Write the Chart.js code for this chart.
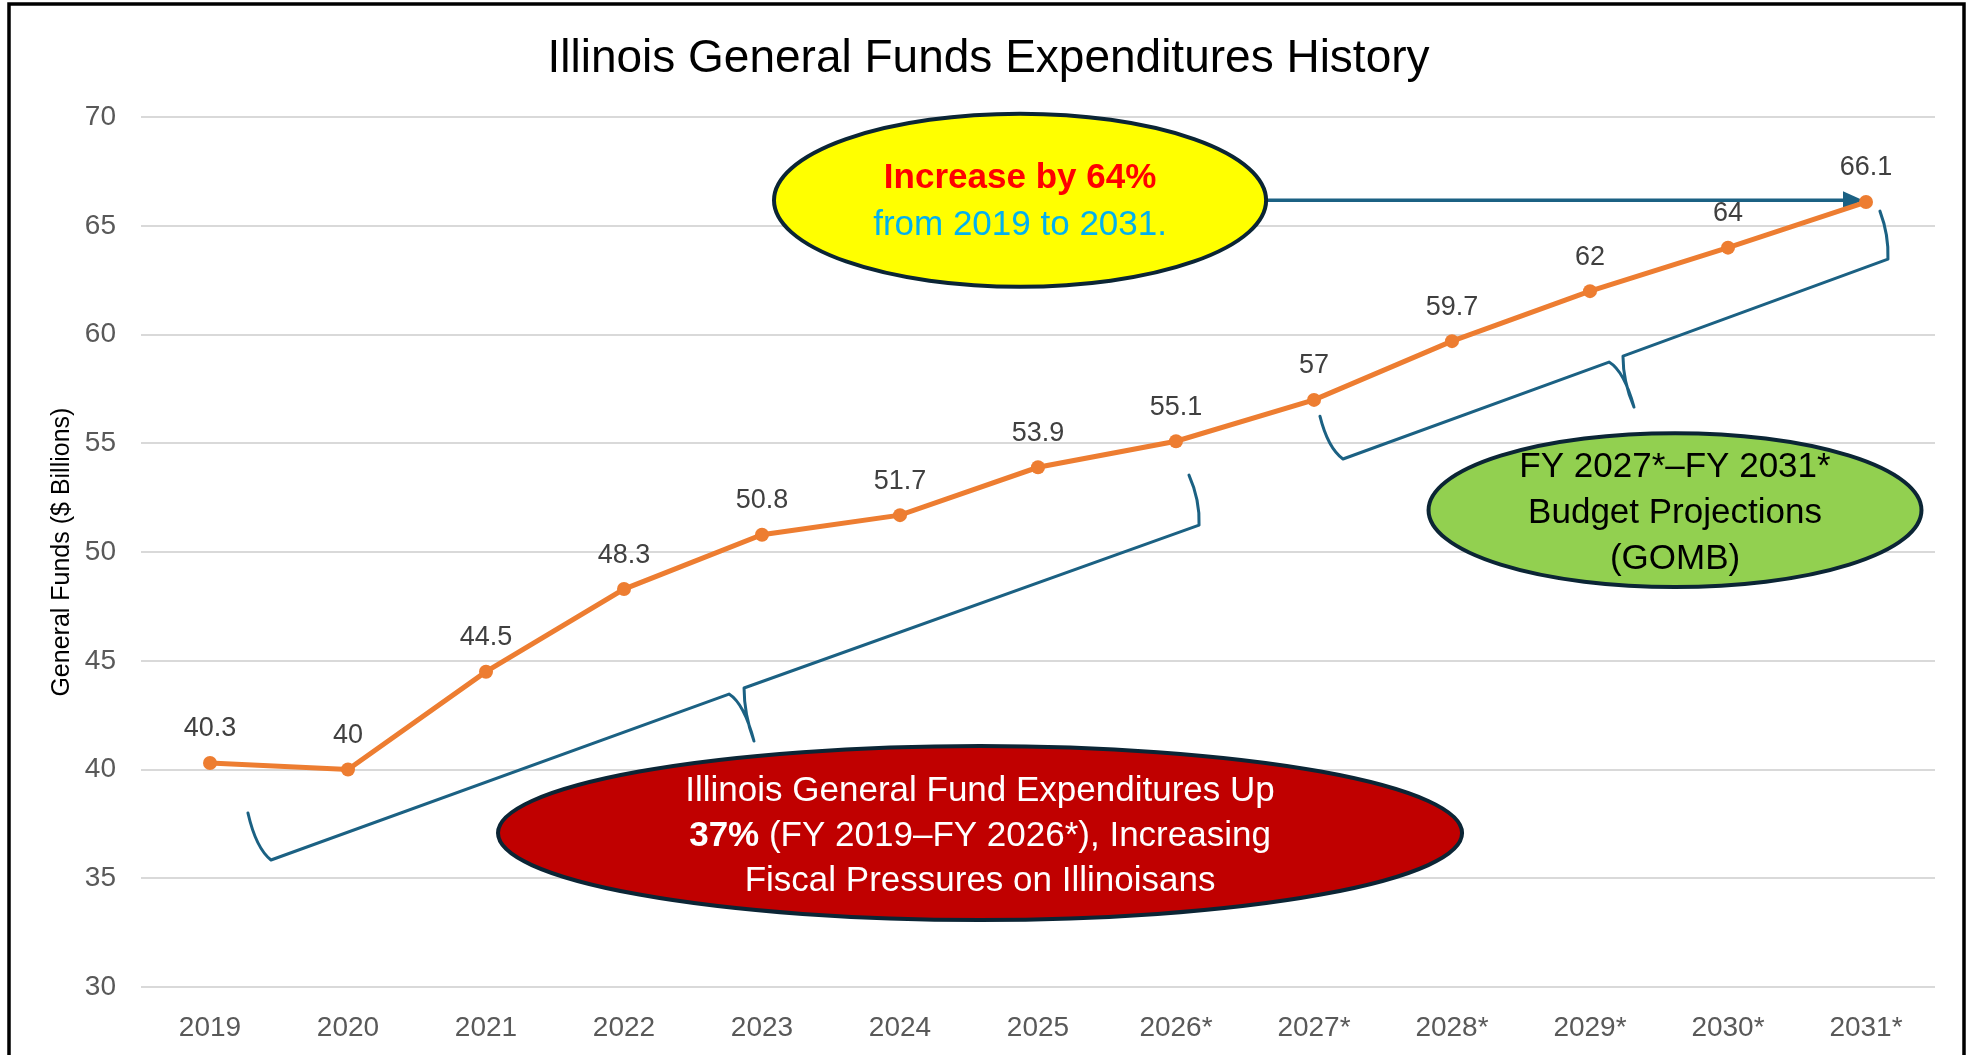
<!DOCTYPE html>
<html>
<head>
<meta charset="utf-8">
<title>Illinois General Funds Expenditures History</title>
<script src="https://cdn.jsdelivr.net/npm/chart.js@4.4.1/dist/chart.umd.min.js"></script>
<style>
  html, body { margin: 0; padding: 0; background: #fff; }
  #wrap { width: 1977px; height: 1055px; position: relative; }
</style>
</head>
<body>
<div id="wrap"><canvas id="expChart"></canvas></div>
<script>
// fiscal years and general funds spending ($ billions)
const years = ['2019', '2020', '2021', '2022', '2023', '2024', '2025', '2026*', '2027*', '2028*', '2029*', '2030*', '2031*'];
const expenditures = [40.3, 40, 44.5, 48.3, 50.8, 51.7, 53.9, 55.1, 57, 59.7, 62, 64, 66.1];
const yMin = 30;
const yMax = 70;
const yStep = 5;

const FONT = "'Liberation Sans', Arial, sans-serif";
const BRACE_COLOR = '#1b6183';
const OUTLINE = '#0b2535';

// callout bubbles, placed in chart units (category index, $ billions)
const callouts = [
  {
    i: 5.87, v: 66.18, rx: 1.783, ry: 3.98, fill: '#ffff00', gap: 47, shift: 2,
    lines: [
      [{ t: 'Increase by 64%', b: true, c: '#ff0000' }],
      [{ t: 'from 2019 to 2031.', c: '#00b0f0' }]
    ]
  },
  {
    i: 5.58, v: 37.08, rx: 3.493, ry: 4.0, fill: '#c00000', gap: 45, shift: 3,
    lines: [
      [{ t: 'Illinois General Fund Expenditures Up', c: '#fff' }],
      [{ t: '37%', b: true, c: '#fff' }, { t: ' (FY 2019\u2013FY 2026*), Increasing', c: '#fff' }],
      [{ t: 'Fiscal Pressures on Illinoisans', c: '#fff' }]
    ]
  },
  {
    i: 10.616, v: 51.93, rx: 1.786, ry: 3.54, fill: '#92d050', gap: 46, shift: 3,
    lines: [
      [{ t: 'FY 2027*\u2013FY 2031*', c: '#000' }],
      [{ t: 'Budget Projections', c: '#000' }],
      [{ t: '(GOMB)', c: '#000' }]
    ]
  }
];

// curly braces: end, corner, cusp, tip, cusp, corner, end
const braces = [
  [[0.275, 38.0], [0.442, 35.84], [3.761, 43.47], [3.942, 41.31], [3.870, 43.75], [7.167, 51.24], [7.094, 53.54]],
  [[8.043, 56.25], [8.210, 54.28], [10.138, 58.74], [10.319, 56.67], [10.239, 59.01], [12.159, 63.47], [12.101, 65.68]]
];

function drawRuns(ctx, runs, cx, cy) {
  let total = 0;
  runs.forEach(r => {
    ctx.font = (r.b ? 'bold ' : '') + '35px ' + FONT;
    r.w = ctx.measureText(r.t).width;
    total += r.w;
  });
  let x = cx - total / 2;
  runs.forEach(r => {
    ctx.font = (r.b ? 'bold ' : '') + '35px ' + FONT;
    ctx.fillStyle = r.c;
    ctx.fillText(r.t, x, cy);
    x += r.w;
  });
}

const annotations = {
  id: 'annotations',
  beforeDatasetsDraw(chart) {
    const ctx = chart.ctx;
    const xs = chart.scales.x, ys = chart.scales.y;
    const x0 = xs.getPixelForValue(0);
    const step = xs.getPixelForValue(1) - x0;
    const X = i => x0 + i * step;
    const Y = v => ys.getPixelForValue(v);
    ctx.save();

    // braces
    ctx.strokeStyle = BRACE_COLOR;
    ctx.lineWidth = 3;
    ctx.lineJoin = 'round';
    ctx.lineCap = 'round';
    braces.forEach(b => {
      const p = b.map(q => ({ x: X(q[0]), y: Y(q[1]) }));
      const [A, B, C, D, E, F, G] = p;
      ctx.beginPath();
      ctx.moveTo(A.x, A.y);
      ctx.quadraticCurveTo(A.x + (B.x - A.x) * 0.35, A.y + (B.y - A.y) * 0.75, B.x, B.y);
      ctx.lineTo(C.x, C.y);
      ctx.quadraticCurveTo(C.x + (D.x - C.x) * 0.6, C.y + (D.y - C.y) * 0.2, D.x, D.y);
      ctx.quadraticCurveTo(E.x, E.y + (D.y - E.y) * 0.5, E.x, E.y);
      ctx.lineTo(F.x, F.y);
      ctx.quadraticCurveTo(F.x + 1, G.y + (F.y - G.y) * 0.5, G.x, G.y);
      ctx.stroke();
    });

    // arrow from the yellow bubble to the last point
    const yc = callouts[0];
    const ay = Y(yc.v);
    const ax0 = X(yc.i) + yc.rx * step;
    const ax1 = X(expenditures.length - 1) - 3;
    ctx.lineWidth = 3.5;
    ctx.beginPath();
    ctx.moveTo(ax0, ay);
    ctx.lineTo(ax1 - 16, ay);
    ctx.stroke();
    ctx.fillStyle = BRACE_COLOR;
    ctx.beginPath();
    ctx.moveTo(ax1, ay);
    ctx.lineTo(ax1 - 20, ay - 9);
    ctx.lineTo(ax1 - 20, ay + 9);
    ctx.closePath();
    ctx.fill();

    // bubbles
    const ppv = Y(0) - Y(1);
    callouts.forEach(c => {
      const cx = X(c.i), cy = Y(c.v);
      ctx.beginPath();
      ctx.ellipse(cx, cy, c.rx * step, c.ry * ppv, 0, 0, Math.PI * 2);
      ctx.fillStyle = c.fill;
      ctx.fill();
      ctx.lineWidth = 4;
      ctx.strokeStyle = OUTLINE;
      ctx.stroke();
      ctx.textAlign = 'left';
      ctx.textBaseline = 'middle';
      const n = c.lines.length;
      c.lines.forEach((runs, k) => {
        drawRuns(ctx, runs, cx, cy + c.shift + (k - (n - 1) / 2) * c.gap);
      });
    });
    ctx.restore();
  },
  afterDatasetsDraw(chart) {
    // value labels above points
    const ctx = chart.ctx;
    const meta = chart.getDatasetMeta(0);
    ctx.save();
    ctx.font = '27px ' + FONT;
    ctx.fillStyle = '#404040';
    ctx.textAlign = 'center';
    ctx.textBaseline = 'middle';
    meta.data.forEach((pt, k) => {
      ctx.fillText(String(expenditures[k]), pt.x, pt.y - 34);
    });
    ctx.restore();
  },
  afterDraw(chart) {
    // outer frame
    const ctx = chart.ctx;
    ctx.save();
    ctx.strokeStyle = '#000';
    ctx.lineWidth = 3.5;
    ctx.strokeRect(9, 4, 1955, chart.height + 20);
    ctx.restore();
  }
};

Chart.defaults.font.family = FONT;

new Chart(document.getElementById('expChart'), {
  type: 'line',
  data: {
    labels: years,
    datasets: [{
      label: 'General Funds',
      data: expenditures,
      borderColor: '#ed7d31',
      backgroundColor: '#ed7d31',
      borderWidth: 5,
      pointRadius: 7,
      pointBorderWidth: 0,
      pointBackgroundColor: '#ed7d31',
      tension: 0
    }]
  },
  options: {
    responsive: true,
    maintainAspectRatio: false,
    animation: false,
    devicePixelRatio: 1,
    layout: { padding: { left: 42, right: 42, top: 0, bottom: 0 } },
    plugins: {
      legend: { display: false },
      tooltip: { enabled: false },
      title: {
        display: true,
        text: 'Illinois General Funds Expenditures History',
        color: '#000',
        font: { size: 46, weight: 'normal', family: FONT },
        padding: { top: 32, bottom: 30 }
      }
    },
    scales: {
      x: {
        offset: true,
        grid: { display: false },
        border: { display: false },
        ticks: { color: '#595959', font: { size: 28 }, padding: 16 },
        afterFit: s => { s.height = 68; }
      },
      y: {
        min: yMin,
        max: yMax,
        ticks: { stepSize: yStep, color: '#595959', font: { size: 28 }, padding: 25 },
        grid: { color: '#d9d9d9', lineWidth: 2, drawTicks: false },
        border: { display: false },
        title: {
          display: true,
          text: 'General Funds ($ Billions)',
          color: '#000',
          font: { size: 25 },
          padding: { top: 5, bottom: 0 }
        },
        afterFit: s => { s.width = 99; }
      }
    }
  },
  plugins: [annotations]
});
</script>
</body>
</html>
